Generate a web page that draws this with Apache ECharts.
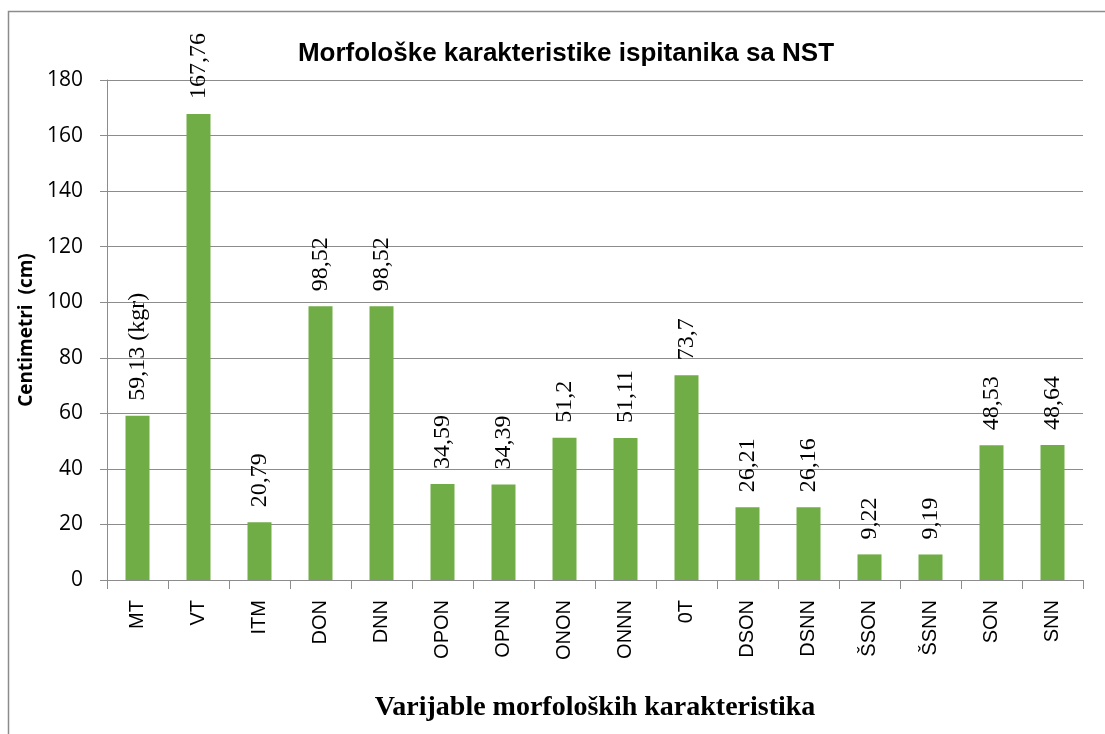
<!DOCTYPE html>
<html>
<head>
<meta charset="utf-8">
<script src="https://cdn.jsdelivr.net/npm/echarts@6/dist/echarts.min.js"></script>
<style>
  html, body { margin: 0; padding: 0; background: #fff; }
  #main { width: 1105px; height: 734px; }
</style>
</head>
<body>
<div id="main"></div>
<script>
var categories = ['MT', 'VT', 'ITM', 'DON', 'DNN', 'OPON', 'OPNN', 'ONON', 'ONNN', '0T', 'DSON', 'DSNN', 'ŠSON', 'ŠSNN', 'SON', 'SNN'];
var values = [59.13, 167.76, 20.79, 98.52, 98.52, 34.59, 34.39, 51.2, 51.11, 73.7, 26.21, 26.16, 9.22, 9.19, 48.53, 48.64];
var labelSuffix = { 'MT': ' (kgr)' };

var chart = echarts.init(document.getElementById('main'));

var option = {
    backgroundColor: '#fff',
    animation: false,
    title: {
        text: 'Morfološke karakteristike ispitanika sa NST',
        left: 561,
        textAlign: 'center',
        top: 36,
        textStyle: {
            fontFamily: 'Liberation Sans',
            fontWeight: 'bold',
            fontSize: 26,
            color: '#000'
        }
    },
    graphic: [{
        type: 'rect',
        shape: { x: 8.5, y: 11.5, width: 1120, height: 740 },
        style: { fill: 'none', stroke: '#8c8c8c', lineWidth: 1.5 },
        silent: true
    }],
    grid: {
        left: 107,
        right: 22,
        top: 80,
        bottom: 154,
        outerBoundsMode: 'none'
    },
    xAxis: {
        type: 'category',
        data: categories,
        name: 'Varijable morfoloških karakteristika',
        nameLocation: 'middle',
        nameGap: 114,
        nameTextStyle: {
            fontFamily: 'Liberation Serif',
            fontWeight: 'bold',
            fontSize: 28,
            color: '#000'
        },
        axisLine: { lineStyle: { color: '#8c8c8c' } },
        axisTick: { show: true, length: 9, lineStyle: { color: '#8c8c8c' } },
        axisLabel: {
            interval: 0,
            rotate: 90,
            margin: 20,
            fontFamily: 'Liberation Sans',
            fontSize: 20,
            color: '#000'
        }
    },
    yAxis: {
        type: 'value',
        min: 0,
        max: 180,
        interval: 20,
        name: 'Centimetri  (cm)',
        nameLocation: 'middle',
        nameGap: 68,
        nameTextStyle: {
            fontFamily: 'Open Sans',
            fontWeight: 'bold',
            fontSize: 19,
            color: '#000'
        },
        axisLine: { show: true, lineStyle: { color: '#8c8c8c' } },
        axisTick: { show: true, length: 7, lineStyle: { color: '#8c8c8c' } },
        splitLine: { lineStyle: { color: '#8c8c8c' } },
        axisLabel: {
            margin: 24,
            fontFamily: 'Open Sans',
            fontSize: 21,
            color: '#000'
        }
    },
    series: [{
        type: 'bar',
        data: values,
        barWidth: 24,
        itemStyle: { color: '#70ad47' },
        label: {
            show: true,
            position: 'top',
            rotate: 90,
            align: 'left',
            verticalAlign: 'middle',
            distance: 15,
            fontFamily: 'Liberation Serif',
            fontSize: 24,
            color: '#000',
            formatter: function (p) {
                return String(p.value).replace('.', ',') + (labelSuffix[p.name] || '');
            }
        }
    }]
};

chart.setOption(option);
</script>
</body>
</html>
